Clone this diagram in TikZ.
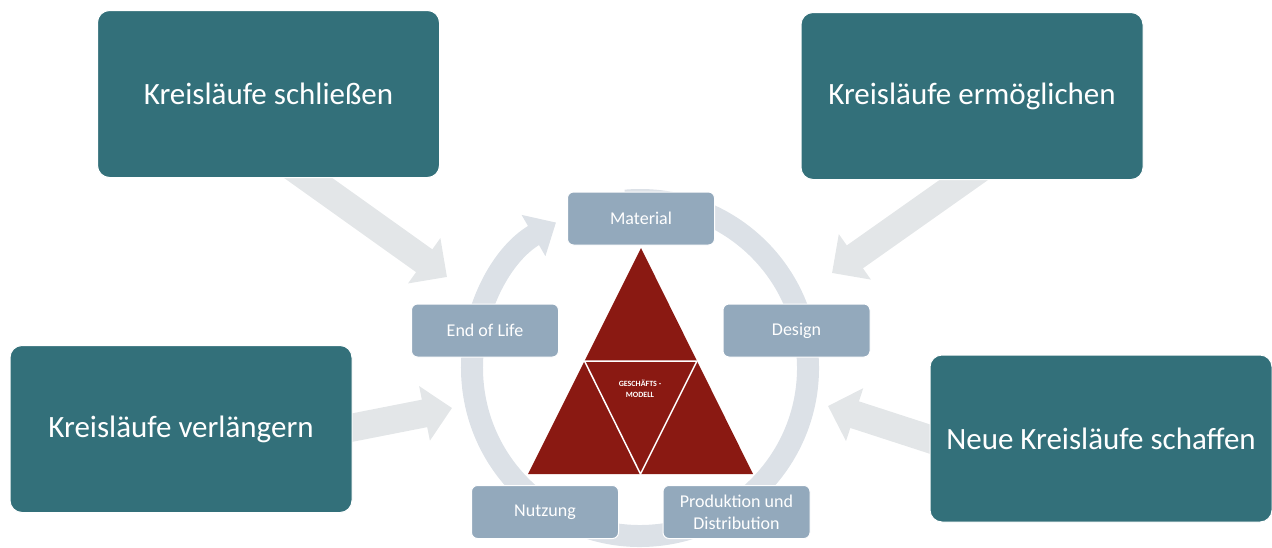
\documentclass[tikz,border=0pt]{standalone}
\usepackage{fontspec}
\setmainfont{Carlito}
\usetikzlibrary{arrows.meta}
\definecolor{tealc}{HTML}{33707A}
\definecolor{steelc}{HTML}{93A9BC}
\definecolor{ringc}{HTML}{DCE1E7}
\definecolor{arrc}{HTML}{E3E6E8}
\definecolor{redc}{HTML}{8A1912}
\begin{document}
\begin{tikzpicture}[x=1pt,y=-1pt,
  bigbox/.style={fill=tealc, draw=white, line width=1pt, rounded corners=12pt,
    minimum width=342pt, minimum height=167pt, text=white, inner sep=0pt,
    font=\fontsize{31}{36}\selectfont},
  smallbox/.style={fill=steelc, draw=white, line width=1pt, rounded corners=6pt,
    minimum width=147pt, minimum height=53pt, text=white, inner sep=0pt, align=center,
    font=\fontsize{18}{22}\selectfont},
  fatarrow/.style={draw=arrc, line width=28pt, -{Triangle[width=54pt,length=28pt]}},
  tri/.style={fill=redc, draw=white, line width=1.5pt, line join=miter}]
\useasboundingbox (0,0) rectangle (1272,547);
% ring
\draw[ringc, line width=22pt, -{Triangle[width=46pt,length=26pt]}]
  (640,368) ++(-95:168) arc[start angle=-95, end angle=240, radius=168];
% fat arrows
\coordinate (a1s) at (290,165);
\coordinate (a1e) at (447,277);
\coordinate (a2s) at (985,165);
\coordinate (a2e) at (832,273);
\coordinate (a3s) at (340,430);
\coordinate (a3e) at (452,408);
\coordinate (a4s) at (945,444);
\coordinate (a4e) at (828,406);
\draw[fatarrow] (a1s) -- (a1e);
\draw[fatarrow] (a2s) -- (a2e);
\draw[fatarrow] (a3s) -- (a3e);
\draw[fatarrow] (a4s) -- (a4e);
% big boxes
\node[bigbox] (b1) at (268.5,94) {Kreisläufe schließen};
\node[bigbox] (b2) at (972,96) {Kreisläufe ermöglichen};
\node[bigbox] (b3) at (181,429) {Kreisläufe verlängern};
\node[bigbox] (b4) at (1101,438.5) {Neue Kreisläufe schaffen};
% small boxes
\node[smallbox] (m) at (641,218.5) {Material};
\node[smallbox] (d) at (796.5,330.5) {Design};
\node[smallbox] (p) at (736.5,512) {Produktion und\\Distribution};
\node[smallbox] (n) at (545,512) {Nutzung};
\node[smallbox] (e) at (485,330.5) {End of Life};
% triangle
\coordinate (t1) at (641,248);
\coordinate (t2) at (528,474);
\coordinate (t3) at (753,474);
\coordinate (m12) at (584.5,361);
\coordinate (m13) at (697,361);
\coordinate (m23) at (640.5,474);
\fill[redc] (t1) -- (t2) -- (t3) -- cycle;
\draw[tri] (m12) -- (m13) -- (m23) -- cycle;
\node[text=white, font=\fontsize{8}{11}\selectfont\bfseries, align=center, inner sep=0pt] (g) at (640,389) {GESCHÄFTS -\\MODELL};
\end{tikzpicture}
\end{document}
